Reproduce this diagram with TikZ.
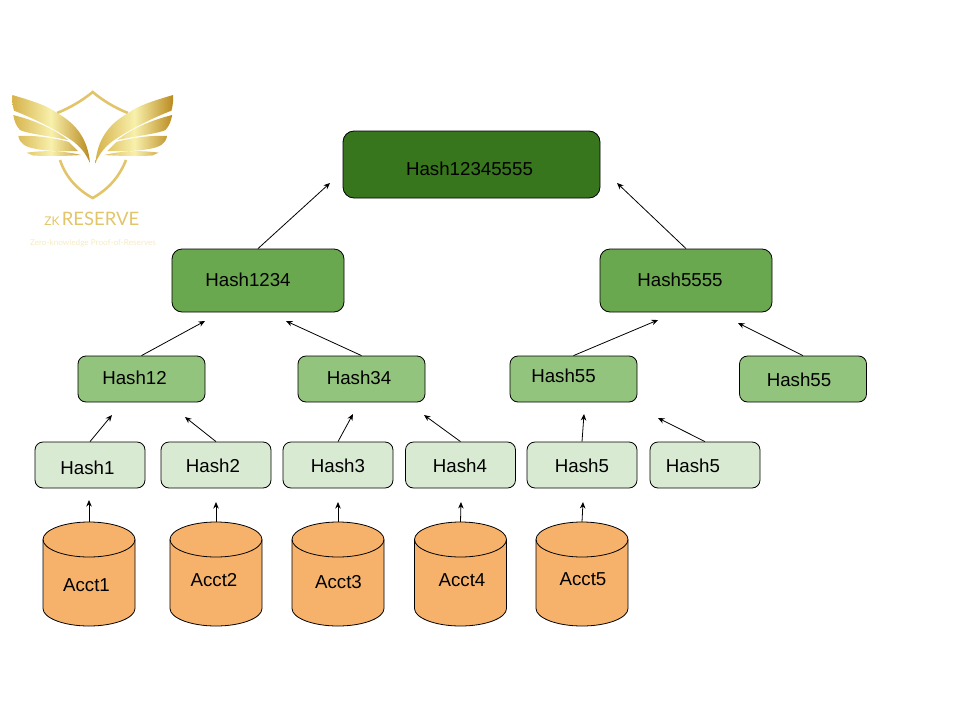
\documentclass[tikz,border=0pt]{standalone}
\usepackage{fontspec}
\setmainfont{Liberation Sans}
\newfontfamily\logofont{Lato}
\usetikzlibrary{arrows.meta}
\definecolor{rootgreen}{HTML}{38761D}
\definecolor{midgreen}{HTML}{6AA84F}
\definecolor{lowgreen}{HTML}{93C47D}
\definecolor{leafgreen}{HTML}{D9EAD3}
\definecolor{acctorange}{HTML}{F6B26B}
\definecolor{golddark}{HTML}{B98A1E}
\definecolor{goldouter}{HTML}{D6B24A}
\definecolor{goldpale}{HTML}{F8F0AC}
\definecolor{goldtext}{HTML}{E2C56A}
\definecolor{goldfaint}{HTML}{F6EBC4}
\tikzset{
	hashbox/.style={draw=black, line width=0.8pt, inner sep=0pt},
	acctbody/.style={inner sep=0pt, minimum width=92pt, minimum height=104pt},
	acctline/.style={draw=black, line width=0.8pt},
	hashtext/.style={font=\fontsize{18.7pt}{20pt}\selectfont, inner sep=0pt},
	wingshade/.style={left color=goldouter, right color=golddark, middle color=goldpale},
	link/.style={-{Stealth[length=6.5pt,width=5.5pt]}, line width=0.8pt}
}
\newcommand{\wingpath}{
	(12.3,95) .. controls (33,101) and (48,106) .. (57,113) .. controls (77,124) and (88,140) .. (90,163)
	.. controls (85,152) and (80,147) .. (74,142) .. controls (57,130) and (33,118) .. (14,110.7)
	.. controls (12.5,106) and (12,100) .. (12.3,95) -- cycle
	(13.3,115) .. controls (33,120) and (53,128) .. (68,140) .. controls (48,136) and (25,133) .. (20,130)
	.. controls (16,126) and (14,120) .. (13.3,115) -- cycle
	(18.3,136) .. controls (35,135) and (55,138) .. (69,142) -- (78,151) .. controls (55,152) and (32,150) .. (24,145)
	.. controls (21,143) and (19,140) .. (18.3,136) -- cycle
	(26.7,152.7) .. controls (45,150) and (65,151) .. (81,155) .. controls (60,156.5) and (40,156) .. (33,155.5) -- cycle
}
\begin{document}
\begin{tikzpicture}[x=1pt, y=-1pt]
	\useasboundingbox (0,0) rectangle (960,720);

	% logo
	\draw[line width=2.6pt, goldtext] (57,113) .. controls (70,108) and (83,100) .. (92.7,92) .. controls (102,100) and (115,108) .. (128,113);
	\draw[line width=2.6pt, goldtext] (60,160) .. controls (66,178) and (78,190) .. (92.7,198) .. controls (107,190) and (119,178) .. (126,160);
	\shade[wingshade] \wingpath;
	\begin{scope}[xshift=185.4pt, xscale=-1]
		\shade[wingshade] \wingpath;
	\end{scope}
	\node[inner sep=0pt, text=goldtext, font=\logofont\fontsize{12pt}{12pt}\selectfont] (logozk) at (52,221) {ZK};
	\node[inner sep=0pt, text=goldtext, font=\logofont\fontsize{18.5pt}{18pt}\selectfont] (logoname) at (100.5,219) {RESERVE};
	\node[inner sep=0pt, text=goldfaint, font=\logofont\fontsize{8.2pt}{8pt}\selectfont] (logotag) at (93,243) {Zero-knowledge Proof-of-Reserves};

	% boxes
	\node[hashbox, fill=rootgreen, rounded corners=11pt, minimum width=257pt, minimum height=67pt] (root) at (471.5,164.5) {};
	\node[hashbox, fill=midgreen, rounded corners=10pt, minimum width=172pt, minimum height=63pt] (hashA) at (258,280.5) {};
	\node[hashbox, fill=midgreen, rounded corners=10pt, minimum width=172pt, minimum height=63pt] (hashB) at (686,280.5) {};
	\foreach \name/\x in {hashAA/141.5, hashAB/361.5, hashBA/573.5, hashBB/803}
		\node[hashbox, fill=lowgreen, rounded corners=8pt, minimum width=127pt, minimum height=46pt] (\name) at (\x,379) {};
	\foreach \name/\x in {leafa/90, leafb/216, leafc/338, leafd/460.5, leafe/582, leaff/705}
		\node[hashbox, fill=leafgreen, rounded corners=8pt, minimum width=110pt, minimum height=46pt] (\name) at (\x,465) {};

	% cans
	\foreach \name/\x in {accta/89, acctb/216, acctc/338, acctd/460.5, accte/582} {
		\node[acctbody] (\name) at (\x,574) {};
		\draw[acctline, fill=acctorange] (\x-46,539.5) .. controls (\x-46,530) and (\x-25.4,522) .. (\x,522)
			.. controls (\x+25.4,522) and (\x+46,530) .. (\x+46,539.5) -- (\x+46,608.5)
			.. controls (\x+46,618) and (\x+25.4,626) .. (\x,626)
			.. controls (\x-25.4,626) and (\x-46,618) .. (\x-46,608.5) -- cycle;
		\draw[acctline] (\x-46,539.5) .. controls (\x-46,549) and (\x-25.4,557) .. (\x,557)
			.. controls (\x+25.4,557) and (\x+46,549) .. (\x+46,539.5);
	}

	% texts
	\foreach \name/\x/\y/\txt in {troot/469.5/169/Hash12345555, thashA/248/280/Hash1234, thashB/680/280/Hash5555,
		thashAA/134.5/378/Hash12, thashAB/359/378/Hash34, thashBA/563.5/376/Hash55, thashBB/799/380/Hash55,
		tleafa/87.5/468/Hash1, tleafb/213/466/Hash2, tleafc/338/466/Hash3, tleafd/460/466/Hash4, tleafe/582/466/Hash5, tleaff/693/466/Hash5,
		taccta/86.5/585/Acct1, tacctb/214/580/Acct2, tacctc/338.5/582/Acct3, tacctd/462/580/Acct4, taccte/583/579/Acct5}
		\node[hashtext] (\name) at (\x,\y) {\txt};

	% arrows
	\foreach \name/\x/\y in {toA/330/183, toB/617/183, toAa/205/321, toAb/286/321, toBa/658/320, toBb/738/323,
		toAAa/112/415, toAAb/185/417, toABa/353/414, toABb/424/415, toBAa/584/414, toBAb/658/418,
		toa/89/500, tob/216/502, toc/338/502, tod/461/502, toe/583/502}
		\coordinate (\name) at (\x,\y);
	\foreach \from/\to in {hashA/toA, hashB/toB, hashAA/toAa, hashAB/toAb, hashBA/toBa, hashBB/toBb,
		leafa/toAAa, leafb/toAAb, leafc/toABa, leafd/toABb, leafe/toBAa, leaff/toBAb,
		accta/toa, acctb/tob, acctc/toc, acctd/tod, accte/toe}
		\draw[link] (\from.north) -- (\to);
\end{tikzpicture}
\end{document}
